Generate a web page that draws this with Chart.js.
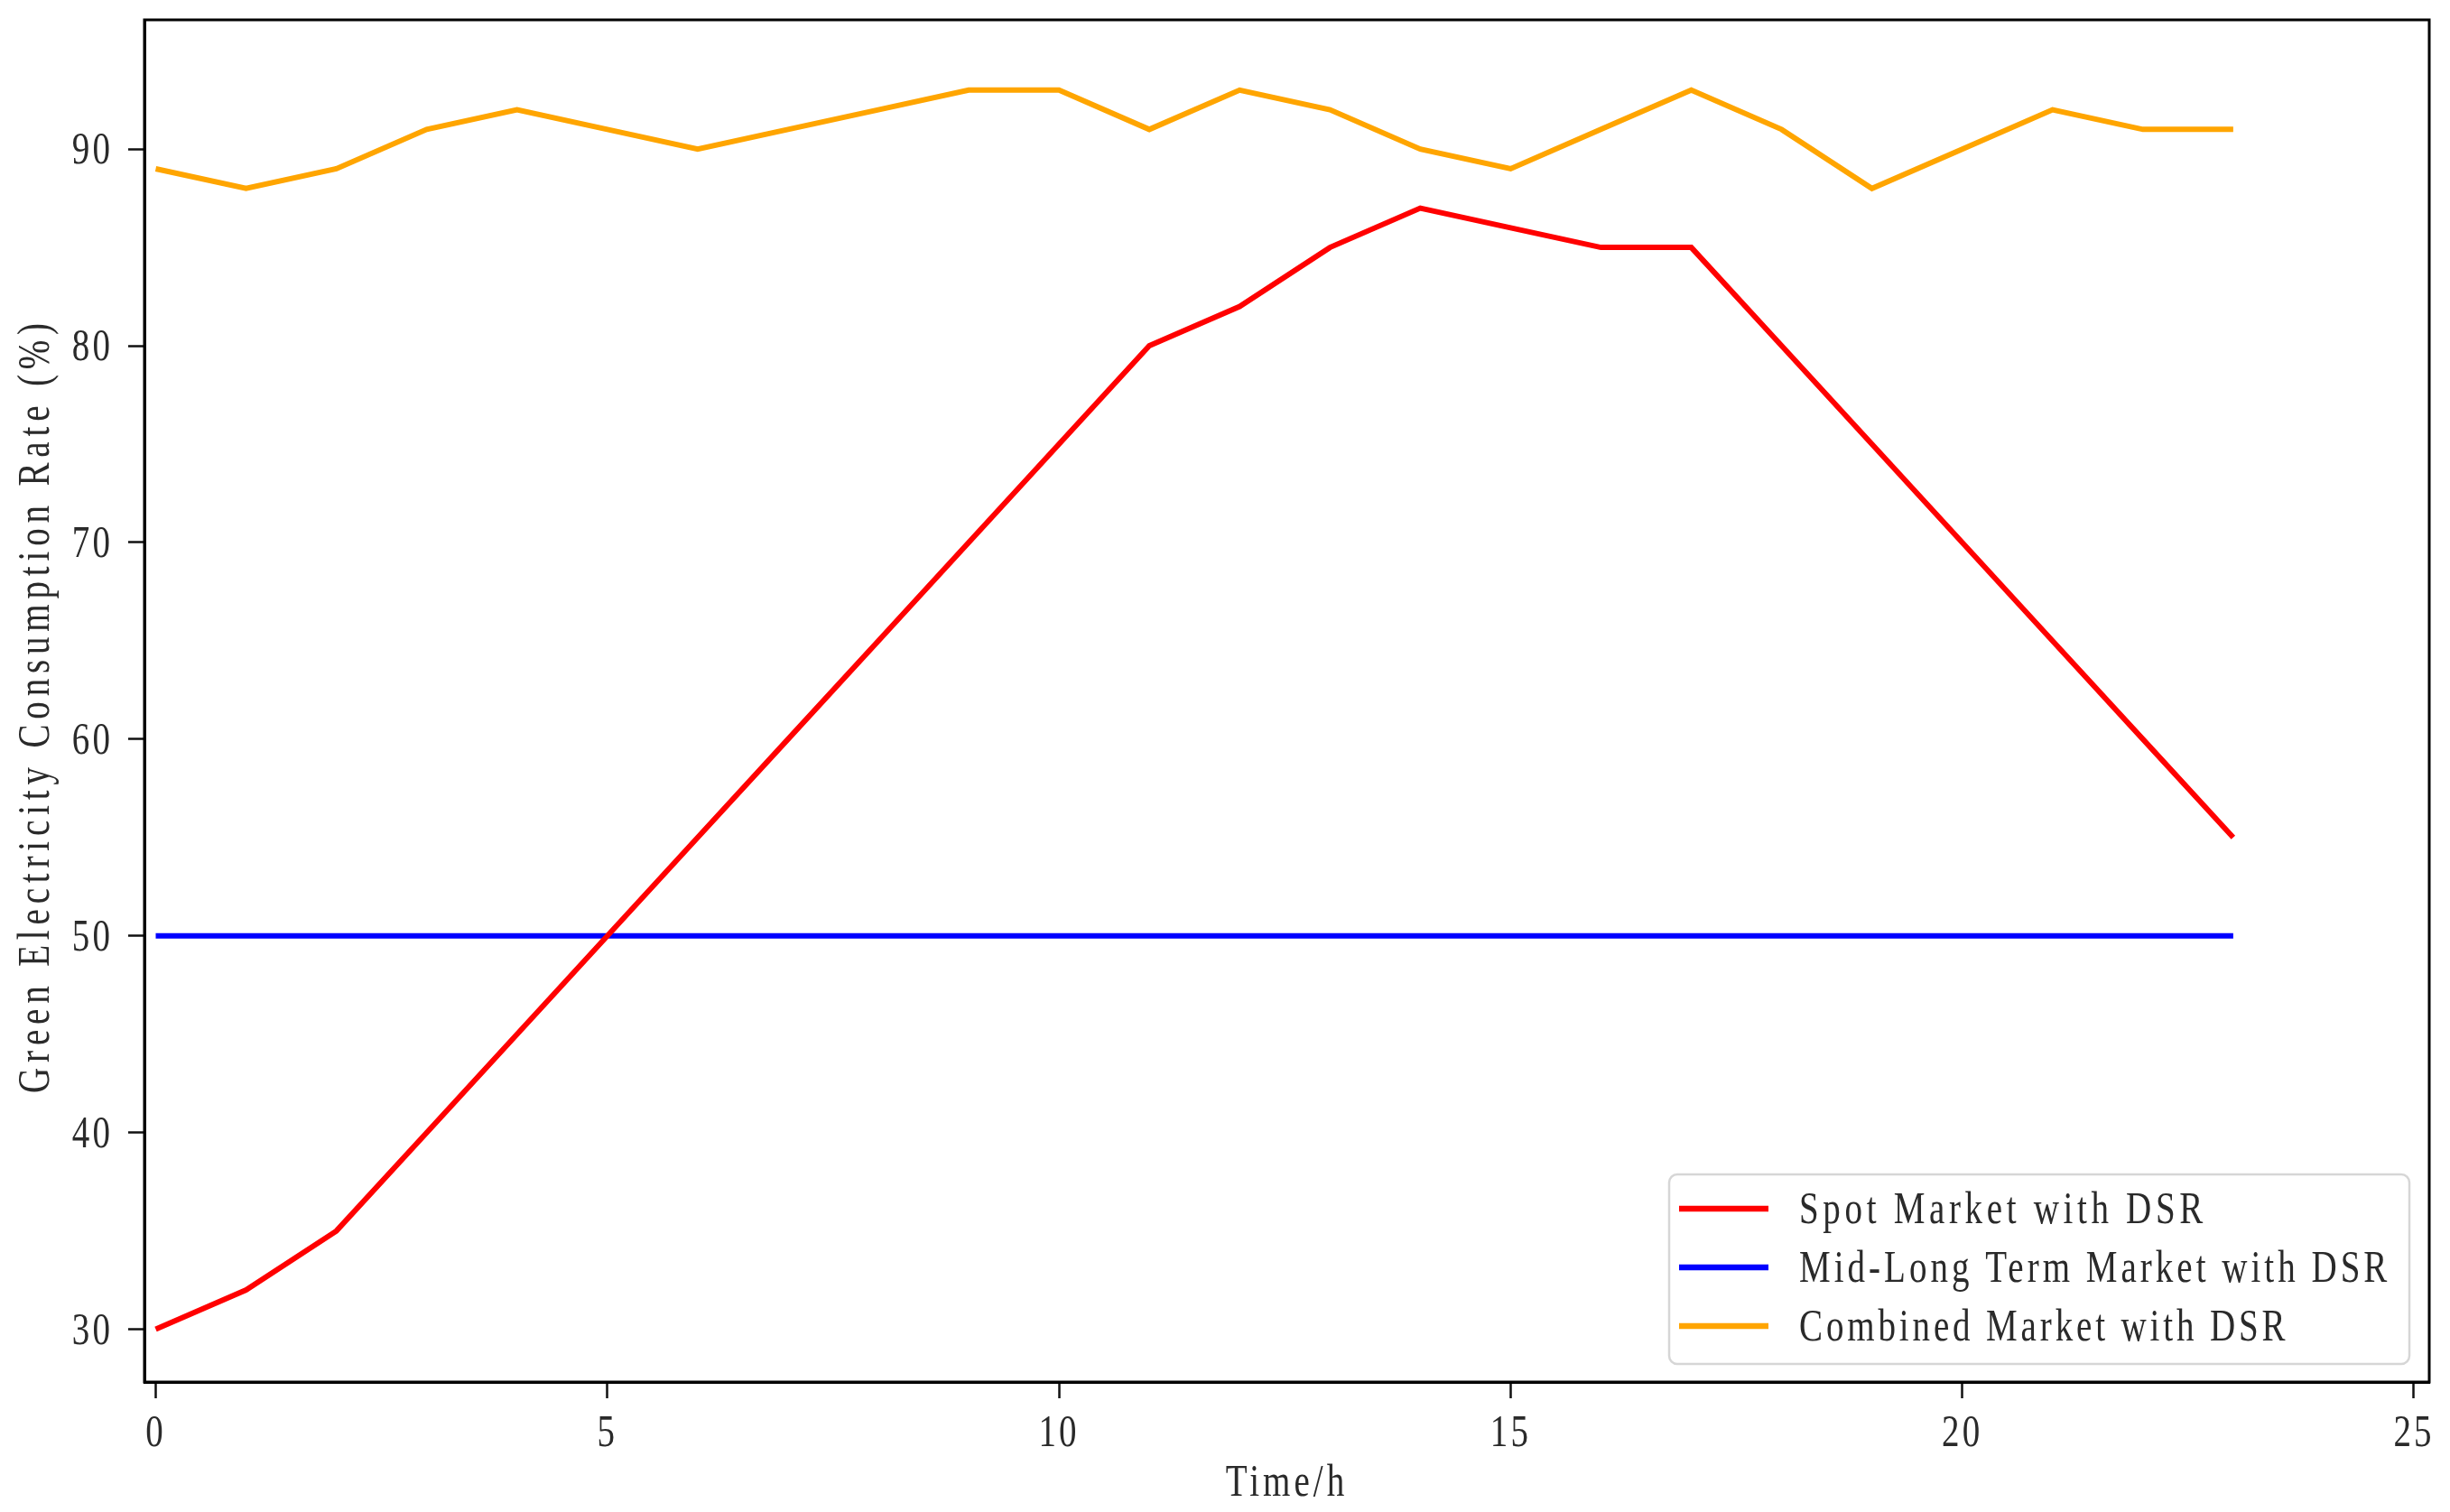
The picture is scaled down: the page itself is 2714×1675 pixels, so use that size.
<!DOCTYPE html>
<html>
<head>
<meta charset="utf-8">
<script src="https://cdn.jsdelivr.net/npm/chart.js@4.4.1/dist/chart.umd.min.js"></script>
<style>
html,body{margin:0;padding:0;background:#fff;}
#wrap{width:2714px;height:1675px;}
</style>
</head>
<body>
<div id="wrap"><canvas id="c" width="2714" height="1675"></canvas></div>
<script>
const hours = [0,1,2,3,4,5,6,7,8,9,10,11,12,13,14,15,16,17,18,19,20,21,22,23];
const spotMarket = [30,32,35,40,45,50,55,60,65,70,75,80,82,85,87,86,85,85,80,75,70,65,60,55];
const midLongMarket = [50,50,50,50,50,50,50,50,50,50,50,50,50,50,50,50,50,50,50,50,50,50,50,50];
const combinedMarket = [89,88,89,91,92,91,90,91,92,93,93,91,93,92,90,89,91,93,91,88,90,92,91,91];
const seriesLabels = ['Spot Market with DSR','Mid-Long Term Market with DSR','Combined Market with DSR'];
const xTicks = [0,5,10,15,20,25];
const yTicks = [30,40,50,60,70,80,90];
const xTitle = 'Time/h';
const yTitle = 'Green Electricity Consumption Rate (%)';

const FONT = "'Liberation Serif', 'DejaVu Serif', serif";
const FS = 50;       // font size
const PITCH = 22.6;  // width per character of the original half-width font
const SXF = 0.78;    // glyph condensing
const TXT = '#2a2a2a';

function pts(arr){ return hours.map((h,i)=>({x:h,y:arr[i]})); }

function drawText(ctx, text, x, y, align, rotate){
  ctx.save();
  ctx.translate(x, y);
  if (rotate) ctx.rotate(-Math.PI/2);
  ctx.font = FS + 'px ' + FONT;
  const target = text.length * PITCH;
  let sx;
  if ('letterSpacing' in ctx) {
    ctx.letterSpacing = '0px';
    const natural = ctx.measureText(text).width;
    const ls = (target / SXF - natural) / text.length;
    ctx.letterSpacing = ls.toFixed(2) + 'px';
    const spaced = ctx.measureText(text).width;
    sx = target / spaced;
  } else {
    sx = target / ctx.measureText(text).width;
  }
  ctx.scale(sx, 1);
  ctx.fillStyle = TXT;
  ctx.textAlign = align;
  ctx.textBaseline = 'alphabetic';
  ctx.fillText(text, 0, 0);
  ctx.restore();
}

const decor = {
  id:'decor',
  afterDraw(chart){
    const {ctx, chartArea:a, scales} = chart;
    ctx.save();
    ctx.strokeStyle = '#000';
    ctx.lineWidth = 3;
    ctx.strokeRect(a.left, a.top, a.right-a.left, a.bottom-a.top);
    ctx.restore();

    const xs = scales.x, ys = scales.y;
    xs.ticks.forEach(t => drawText(ctx, String(t.value), xs.getPixelForValue(t.value), a.bottom + 71, 'center', false));
    ys.ticks.forEach(t => drawText(ctx, String(t.value), a.left - 35, ys.getPixelForValue(t.value) + 16, 'right', false));
    drawText(ctx, xTitle, (a.left + a.right)/2, a.bottom + 126, 'center', false);
    drawText(ctx, yTitle, a.left - 106, (a.top + a.bottom)/2 + 5, 'center', true);

    // legend
    ctx.save();
    const w = 820, h = 210;
    const x0 = a.right - 22 - w, y0 = a.bottom - 20 - h;
    const r = 9;
    ctx.beginPath();
    ctx.moveTo(x0+r,y0);
    ctx.arcTo(x0+w,y0,x0+w,y0+h,r);
    ctx.arcTo(x0+w,y0+h,x0,y0+h,r);
    ctx.arcTo(x0,y0+h,x0,y0,r);
    ctx.arcTo(x0,y0,x0+w,y0,r);
    ctx.closePath();
    ctx.fillStyle = 'rgba(255,255,255,0.85)';
    ctx.fill();
    ctx.strokeStyle = '#d6d6d6';
    ctx.lineWidth = 2.5;
    ctx.stroke();
    ctx.restore();
    chart.data.datasets.forEach((ds,i)=>{
      const y = y0 + 38 + i*65;
      ctx.save();
      ctx.strokeStyle = ds.borderColor;
      ctx.lineWidth = 6.5;
      ctx.beginPath();
      ctx.moveTo(x0+11, y);
      ctx.lineTo(x0+110, y);
      ctx.stroke();
      ctx.restore();
      drawText(ctx, ds.label, x0+144, y+16, 'left', false);
    });
  }
};

new Chart(document.getElementById('c'), {
  type:'line',
  data:{
    datasets:[
      {label:seriesLabels[0], data:pts(spotMarket), borderColor:'#ff0000', borderWidth:6, pointRadius:0, tension:0, fill:false},
      {label:seriesLabels[1], data:pts(midLongMarket), borderColor:'#0000ff', borderWidth:6, pointRadius:0, tension:0, fill:false},
      {label:seriesLabels[2], data:pts(combinedMarket), borderColor:'#ffa500', borderWidth:6, pointRadius:0, tension:0, fill:false}
    ]
  },
  options:{
    responsive:false,
    animation:false,
    layout:{padding:{top:22, right:23, left:0, bottom:0}},
    plugins:{legend:{display:false}, tooltip:{enabled:false}},
    scales:{
      x:{
        type:'linear', min:-0.125, max:25.17,
        afterBuildTicks(s){ s.ticks = xTicks.map(v=>({value:v})); },
        afterFit(s){ s.height = 144; s.paddingLeft = 0; s.paddingRight = 0; },
        grid:{drawOnChartArea:false, drawTicks:true, tickLength:18, tickWidth:2.5, tickColor:'#111'},
        border:{display:true, color:'#000', width:3},
        ticks:{display:false}
      },
      y:{
        type:'linear', min:27.32, max:96.57,
        afterBuildTicks(s){ s.ticks = yTicks.map(v=>({value:v})); },
        afterFit(s){ s.width = 160; s.paddingTop = 0; s.paddingBottom = 0; },
        grid:{drawOnChartArea:false, drawTicks:true, tickLength:18, tickWidth:2.5, tickColor:'#111'},
        border:{display:true, color:'#000', width:3},
        ticks:{display:false}
      }
    }
  },
  plugins:[decor]
});
</script>
</body>
</html>
